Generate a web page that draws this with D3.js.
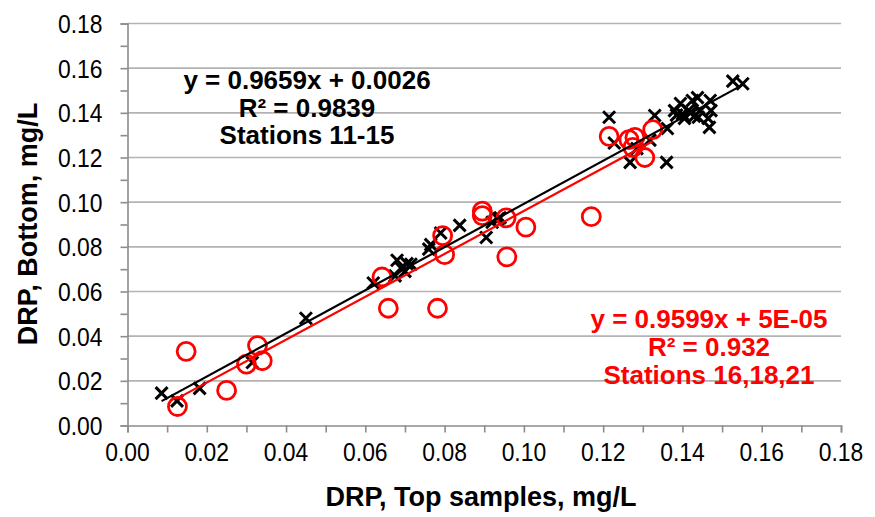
<!DOCTYPE html>
<html><head><meta charset="utf-8">
<script src="https://cdn.jsdelivr.net/npm/d3@7"></script>
<style>
html,body{margin:0;padding:0;background:#fff;}
svg{display:block;font-family:"Liberation Sans",Arial,sans-serif;}
</style></head>
<body>
<svg id="chart" width="875" height="517"></svg>
<script>
// Stations 11-15 (black crosses): [top, bottom]
const stations11_15 = [
  [0.0086,0.0145],[0.0125,0.0110],[0.0182,0.0166],[0.0315,0.0282],[0.0450,0.0480],
  [0.0620,0.0638],[0.0675,0.0670],[0.0680,0.0740],[0.0690,0.0705],[0.0700,0.0690],
  [0.0705,0.0725],[0.0715,0.0722],[0.0760,0.0790],[0.0765,0.0810],[0.0790,0.0862],
  [0.0838,0.0896],[0.0905,0.0842],[0.0920,0.0910],[0.0940,0.0930],[0.0935,0.0925],
  [0.1215,0.1380],[0.1228,0.1265],[0.1268,0.1178],[0.1285,0.1240],[0.1318,0.1278],
  [0.1330,0.1388],[0.1360,0.1178],[0.1362,0.1330],[0.1380,0.1410],[0.1385,0.1390],
  [0.1395,0.1442],[0.1400,0.1395],[0.1405,0.1375],[0.1415,0.1410],[0.1420,0.1400],
  [0.1425,0.1455],[0.1430,0.1385],[0.1438,0.1468],[0.1445,0.1410],[0.1440,0.1380],
  [0.1470,0.1455],[0.1472,0.1410],[0.1465,0.1375],[0.1468,0.1335],[0.1527,0.1542],
  [0.1552,0.1530]
];
// Stations 16,18,21 (red circles): [top, bottom]
const stations16_18_21 = [
  [0.0126,0.0085],[0.0148,0.0332],[0.0250,0.0157],[0.0300,0.0275],[0.0328,0.0358],
  [0.0340,0.0290],[0.0642,0.0665],[0.0658,0.0525],[0.0782,0.0525],[0.0795,0.0850],
  [0.0800,0.0765],[0.0895,0.0960],[0.0895,0.0940],[0.0955,0.0930],[0.0957,0.0755],
  [0.1005,0.0888],[0.1170,0.0935],[0.1215,0.1295],[0.1265,0.1280],[0.1280,0.1290],
  [0.1275,0.1245],[0.1305,0.1200],[0.1325,0.1325]
];
// trendline coefficients [slope, intercept]
const trendBlack = [0.9659, 0.0026];
const trendRed = [0.9599, 0.00005];
const labelBlack = ["y = 0.9659x + 0.0026", "R\u00B2 = 0.9839", "Stations 11-15"];
const labelRed = ["y = 0.9599x + 5E-05", "R\u00B2 = 0.932", "Stations 16,18,21"];
const majorTicks = [0,0.02,0.04,0.06,0.08,0.10,0.12,0.14,0.16,0.18];
const minorTicks = [0,0.01,0.02,0.03,0.04,0.05,0.06,0.07,0.08,0.09,0.10,0.11,0.12,0.13,0.14,0.15,0.16,0.17,0.18];
const xTitle = "DRP, Top samples, mg/L";
const yTitle = "DRP, Bottom, mg/L";

const svg = d3.select("#chart");
const L = 127.5, R = 841, T = 23.5, B = 425.5;
const x = d3.scaleLinear().domain([0,0.18]).range([L,R]);
const y = d3.scaleLinear().domain([0,0.18]).range([B,T]);
const fmt = d3.format(".2f");
const sx = 0.88;

// gridlines
svg.append("g").selectAll("line").data(majorTicks.slice(1)).join("line")
  .attr("x1",L).attr("x2",R).attr("y1",d=>y(d)).attr("y2",d=>y(d))
  .attr("stroke","#b3b3b3").attr("stroke-width",1.6);

// axes
const xAxis = svg.append("g").attr("transform",`translate(0,${B})`)
  .call(d3.axisBottom(x).tickValues(minorTicks).tickSize(7).tickFormat(""));
const yAxis = svg.append("g").attr("transform",`translate(${L},0)`)
  .call(d3.axisLeft(y).tickValues(minorTicks).tickSize(7).tickFormat(""));
[xAxis,yAxis].forEach(a=>{
  a.selectAll("path,line").attr("stroke","#8c8c8c").attr("stroke-width",1.6);
});
svg.append("g").selectAll("text").data(majorTicks).join("text")
  .attr("transform",d=>`translate(${x(d)},${B+35}) scale(${sx},1)`).attr("text-anchor","middle")
  .attr("font-size",26).attr("fill","#000").text(fmt);
svg.append("g").selectAll("text").data(majorTicks).join("text")
  .attr("transform",d=>`translate(${L-25},${y(d)+9.5}) scale(${sx},1)`).attr("text-anchor","end")
  .attr("font-size",26).attr("fill","#000").text(fmt);

// titles
svg.append("text").attr("x",481).attr("y",506).attr("text-anchor","middle")
  .attr("font-size",27).attr("font-weight","bold").text(xTitle);
svg.append("text").attr("transform","translate(37,224) rotate(-90)").attr("text-anchor","middle")
  .attr("font-size",27).attr("font-weight","bold").text(yTitle);

// markers: crosses
const cs = 6;
svg.append("g").selectAll("path").data(stations11_15).join("path")
  .attr("d",d=>{const cx=x(d[0]),cy=y(d[1]);
    return `M${cx-cs},${cy-cs}L${cx+cs},${cy+cs}M${cx-cs},${cy+cs}L${cx+cs},${cy-cs}`;})
  .attr("stroke","#000").attr("stroke-width",3).attr("fill","none");
// circles
svg.append("g").selectAll("circle").data(stations16_18_21).join("circle")
  .attr("cx",d=>x(d[0])).attr("cy",d=>y(d[1])).attr("r",9)
  .attr("fill","none").attr("stroke","#ff0000").attr("stroke-width",2.8);

// trendlines
function trend(data, c, color){
  const ext = d3.extent(data, d=>d[0]);
  svg.append("line").attr("x1",x(ext[0])).attr("y1",y(c[0]*ext[0]+c[1]))
    .attr("x2",x(ext[1])).attr("y2",y(c[0]*ext[1]+c[1]))
    .attr("stroke",color).attr("stroke-width",2.2);
}
trend(stations16_18_21, trendRed, "#ff0000");
trend(stations11_15, trendBlack, "#000");

// annotations
svg.append("g").selectAll("text").data(labelBlack).join("text")
  .attr("x",307).attr("y",(d,i)=>89+i*27.5).attr("text-anchor","middle")
  .attr("font-size",26).attr("font-weight","bold").attr("fill","#000").text(d=>d);
svg.append("g").selectAll("text").data(labelRed).join("text")
  .attr("x",709).attr("y",(d,i)=>328+i*28).attr("text-anchor","middle")
  .attr("font-size",26).attr("font-weight","bold").attr("fill","#ff0000").text(d=>d);
</script>
</body></html>
